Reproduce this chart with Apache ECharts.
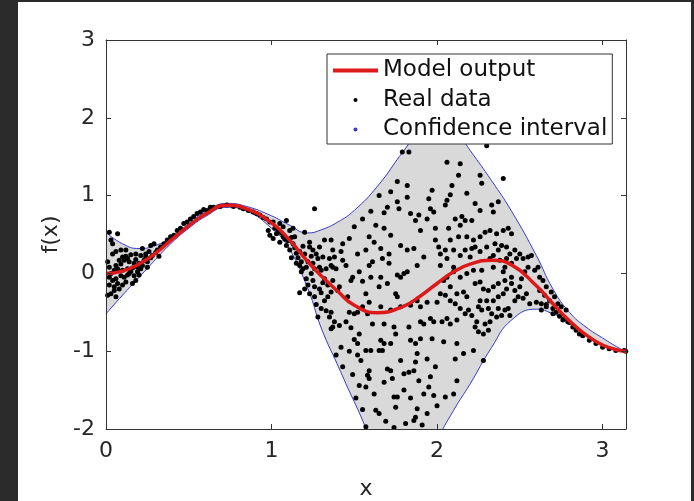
<!DOCTYPE html>
<html>
<head>
<meta charset="utf-8">
<script src="https://cdn.jsdelivr.net/npm/echarts@6/dist/echarts.min.js"></script>
<style>
html,body{margin:0;padding:0;background:#2b2b2b;width:694px;height:501px;overflow:hidden}
#chart{position:absolute;left:18px;top:2px;width:673px;height:499px;background:#fff}
</style>
</head>
<body>
<div id="chart"></div>
<script>
const xTicks = [0, 1, 2, 3];
const yTicks = [-2, -1, 0, 1, 2, 3];
const xMax = 3.14159;

const bandX  = [0,0.1,0.2,0.3,0.4,0.5,0.6,0.73,0.85,1.0,1.1,1.22,1.3,1.4,1.5,1.64,1.8,1.9,2.0,2.1,2.2,2.33,2.45,2.6,2.7,2.8,2.9,3.0,3.1,3.14159];
const modelY = [0.00,0.03,0.12,0.26,0.44,0.61,0.76,0.876,0.83,0.65,0.45,0.15,-0.03,-0.23,-0.41,-0.505,-0.42,-0.29,-0.13,0.02,0.12,0.17,0.11,-0.16,-0.39,-0.61,-0.79,-0.92,-0.99,-1.00];
const upperY = [0.53,0.38,0.32,0.36,0.47,0.64,0.79,0.90,0.86,0.74,0.63,0.52,0.56,0.66,0.81,1.12,1.58,1.84,1.97,1.87,1.58,1.19,0.80,0.23,-0.20,-0.50,-0.69,-0.83,-0.96,-1.00];
const lowerY = [-0.52,-0.28,-0.05,0.18,0.40,0.58,0.73,0.85,0.80,0.58,0.34,-0.20,-0.70,-1.18,-1.65,-2.25,-2.65,-2.65,-2.15,-1.76,-1.42,-0.95,-0.60,-0.46,-0.52,-0.62,-0.80,-0.93,-0.99,-1.00];

const realData = [
[0.02,0.53],[0.07,0.51],[0.03,0.43],[0.04,0.38],[0.06,0.28],[0.10,0.21],[0.08,0.17],[0.11,0.17],[0.13,0.19],[0.14,0.15],[0.17,0.13],[0.01,0.15],[0.02,0.08],[0.05,0.04],[0.07,0.06],[0.10,0.04],[0.13,0.06],[0.16,0.07],[0.19,0.08],[0.20,0.13],[0.23,0.17],[0.21,0.23],[0.18,0.25],[0.22,0.32],[0.26,0.28],[0.27,0.36],[0.29,0.38],[0.24,0.21],[0.25,0.15],[0.02,-0.05],[0.04,-0.09],[0.06,-0.07],[0.09,-0.03],[0.11,-0.05],[0.14,0.00],[0.17,-0.03],[0.19,0.02],[0.02,-0.15],[0.05,-0.17],[0.07,-0.13],[0.12,-0.11],[0.03,-0.26],[0.06,-0.30],[0.05,-0.22],[0.16,-0.13],[0.18,-0.09],[0.21,0.06],[0.25,0.08],[0.28,0.23],[0.31,0.30],[0.33,0.34],[0.35,0.38],[0.37,0.43],[0.39,0.47],[0.43,0.55],[0.47,0.64],[0.51,0.70],[0.55,0.77],[0.59,0.82],[0.63,0.85],[0.69,0.86],[0.77,0.86],[0.83,0.83],[0.89,0.79],[0.93,0.75],[0.97,0.70],[1.01,0.66],[1.05,0.64],[1.09,0.68],[1.07,0.60],[1.11,0.55],[1.13,0.58],[0.98,0.55],[0.99,0.49],[1.01,0.45],[1.03,0.51],[1.05,0.40],[1.07,0.47],[1.09,0.36],[1.11,0.30],[1.13,0.38],[1.15,0.26],[1.15,0.13],
[0.41,0.49],[0.45,0.58],[0.49,0.66],[0.53,0.73],[0.57,0.79],[0.61,0.81],[0.65,0.85],[0.73,0.88],[0.81,0.85],[0.86,0.81],[0.91,0.77],[0.95,0.72],[0.99,0.66],
[0.03,0.00],[0.06,0.10],[0.09,0.12],[0.12,0.22],[0.15,0.24],[0.18,0.18],[0.08,-0.20],[0.10,-0.15],[0.13,-0.02],[0.15,0.02],[0.20,-0.02],[0.22,0.10],[0.24,0.25],[0.27,0.20],[0.30,0.27],[0.32,0.22],[0.04,0.25],[0.01,-0.28],[0.09,0.30],[0.12,0.30],
[1.02,0.58],[1.04,0.55],[1.06,0.52],[1.08,0.44],[1.10,0.42],[1.12,0.46],[1.14,0.33],[1.16,0.20],[1.18,0.15],[1.19,0.35],[1.14,0.47],[1.12,0.20],[1.17,0.10],[1.20,0.25],[1.22,0.15],[1.24,0.22],[1.27,0.25],[1.22,-0.15],[1.26,-0.30],[1.30,-0.25],[1.31,-0.12],[1.34,-0.15],[1.27,-0.40],[1.30,-0.45],[1.33,-0.48],
[1.46,-0.30],[1.48,-0.70],[1.50,-0.85],[1.47,-1.00],[1.49,-1.30],[1.51,-1.60],[1.55,-1.75],[1.55,-0.10],[1.57,0.30],[1.52,0.25],[1.45,0.10],[1.47,0.45],[1.50,0.60],[1.55,0.70],[1.60,0.80],[1.63,0.62],[1.70,0.85],[1.72,1.05],[1.68,0.78],
[1.62,-1.55],[1.68,-1.40],[1.80,-1.50],[1.84,-1.60],[1.92,-1.55],[1.99,-1.20],[2.00,-1.70],[1.69,-1.90],[1.81,-1.93],[1.91,-1.95],
[1.26,0.83],[1.79,1.56],[1.83,1.56],[1.76,1.18],[1.82,1.13],[1.76,0.92],[1.82,0.98],[1.65,1.00],[1.77,0.83],[1.84,0.77],[1.87,0.68],[1.89,0.75],[1.94,0.70],[1.97,1.07],[1.95,0.96],[1.96,0.83],[1.98,0.79],[1.68,0.58],[1.72,0.49],[1.90,0.55],[1.99,0.58],[1.99,0.43],[2.01,0.34],[1.59,0.47],[1.62,0.40],[1.66,0.32],[1.71,0.25],[1.78,0.36],[1.82,0.30],[1.86,0.32],[1.92,0.21],[1.88,0.10],[1.67,0.19],[1.61,0.15],[1.59,0.10],[1.71,0.13],[1.53,0.02],[1.49,-0.05],[1.48,-0.09],[1.60,-0.05],[1.66,-0.05],[1.76,-0.02],[1.78,-0.05],[1.80,0.00],[1.82,0.02],[1.70,-0.13],[1.65,-0.17],[1.75,-0.26],[1.76,-0.30],[1.57,-0.26],[1.59,-0.37],[1.55,-0.43],[1.52,-0.50],[1.58,-0.52],[1.66,-0.43],[1.72,-0.47],[1.78,-0.43],[1.84,-0.41],[1.88,-0.35],[1.90,-0.43],[1.94,-0.37],[2.00,-0.37],[1.98,-0.62],[1.96,-0.58],[1.90,-0.62],[1.92,-0.65],[1.83,-0.69],[1.74,-0.69],[1.75,-0.78],[1.68,-0.65],[1.61,-0.65],[1.66,-0.86],[1.68,-0.90],[1.72,-0.90],[1.67,-0.99],[1.65,-0.99],[1.60,-0.99],[1.57,-0.99],[1.53,-0.78],[1.52,-0.90],[1.54,-1.12],[1.52,-1.05],[1.78,-1.12],[1.84,-0.86],[1.87,-0.90],[1.90,-0.84],[1.88,-1.03],[1.87,-1.14],[1.94,-1.10],[1.97,-0.84],[1.95,-1.46],[1.98,-1.57],[1.96,-1.33],[1.89,-1.38],[1.86,-1.25],[1.83,-1.27],[1.80,-1.29],[1.72,-1.25],[1.70,-1.23],[1.59,-1.25],[1.58,-1.31],[1.59,-1.35],[1.53,-1.44],[1.57,-1.46],[1.73,-1.35],[1.76,-1.59],[1.74,-1.59],[1.75,-1.72],[1.88,-1.74],[1.87,-1.85],[1.86,-1.89],[1.94,-1.80],[1.63,-1.76],[1.65,-1.80],[1.57,-1.97],[1.74,-1.98],[1.43,-1.20],[1.39,-1.05],[1.42,-0.95],[1.45,-0.62],[1.41,-0.67],[1.37,-0.69],[1.36,-0.71],[1.38,-0.62],[1.36,-0.50],[1.35,-0.56],[1.28,-0.56],[1.32,-0.35],[1.34,-0.30],[1.29,-0.20],[1.36,-0.24],[1.40,-0.22],[1.41,-0.17],[1.37,-0.09],[1.32,-0.07],[1.25,-0.09],[1.26,-0.17],[1.23,-0.26],[1.20,-0.20],[1.17,-0.25],[1.21,-0.07],[1.24,0.00],[1.21,0.08],[1.25,0.13],[1.28,0.19],[1.31,0.21],[1.35,0.19],[1.38,0.21],[1.36,0.10],[1.39,0.06],[1.43,0.17],[1.42,0.28],[1.43,0.38],[1.37,0.30],[1.36,0.43],[1.32,0.43],[1.29,0.34],[1.25,0.30],[1.23,0.40],[1.20,0.53],[1.23,0.34],[1.17,0.28],[1.19,0.06],[1.18,0.02],[1.29,0.08],[1.33,0.06],[1.37,0.08],[1.30,0.04],[1.26,0.06],[1.47,-0.50],[1.50,-0.52],[2.04,-0.88],[2.12,-0.90],[2.11,-1.10],[2.12,-1.38],[2.10,-1.55],[2.05,-1.59],
[2.30,1.64],[2.06,1.43],[2.14,1.41],[2.13,1.26],[2.26,1.26],[2.27,1.16],[2.40,1.22],[2.09,1.13],[2.08,1.01],[2.06,0.94],[2.18,1.03],[2.05,0.88],[2.23,0.90],[2.26,0.81],[2.33,0.88],[2.37,0.92],[2.34,0.79],[2.11,0.70],[2.15,0.73],[2.17,0.68],[2.14,0.62],[2.21,0.68],[2.07,0.58],[2.08,0.43],[2.05,0.30],[2.02,0.25],[2.13,0.47],[2.18,0.47],[2.22,0.43],[2.26,0.47],[2.29,0.53],[2.32,0.55],[2.36,0.51],[2.40,0.55],[2.43,0.58],[2.45,0.51],[2.23,0.34],[2.21,0.32],[2.17,0.30],[2.14,0.23],[2.10,0.30],[2.06,0.19],[2.02,0.10],[2.10,0.08],[2.20,0.21],[2.26,0.28],[2.30,0.34],[2.35,0.38],[2.37,0.30],[2.34,0.23],[2.32,0.19],[2.39,0.36],[2.42,0.34],[2.44,0.25],[2.47,0.30],[2.50,0.25],[2.52,0.19],[2.55,0.21],[2.57,0.23],[2.48,0.19],[2.45,0.13],[2.41,0.08],[2.40,0.02],[2.42,0.19],[2.38,0.17],[2.34,0.08],[2.27,0.04],[2.22,0.04],[2.18,0.00],[2.10,0.02],[2.06,-0.05],[2.14,-0.05],[2.23,-0.13],[2.26,-0.11],[2.28,-0.20],[2.31,-0.22],[2.34,-0.17],[2.37,-0.13],[2.41,-0.09],[2.45,-0.05],[2.51,-0.07],[2.53,0.02],[2.55,0.08],[2.59,0.04],[2.61,0.08],[2.62,-0.05],[2.64,-0.09],[2.66,-0.17],[2.69,-0.24],[2.62,-0.22],[2.65,-0.28],[2.68,-0.35],[2.71,-0.30],[2.73,-0.39],[2.75,-0.43],[2.78,-0.47],[2.76,-0.60],[2.79,-0.62],[2.70,-0.52],[2.66,-0.43],[2.63,-0.47],[2.63,-0.39],[2.60,-0.37],[2.56,-0.39],[2.52,-0.32],[2.49,-0.30],[2.47,-0.22],[2.50,-0.17],[2.54,-0.26],[2.45,-0.13],[2.42,-0.20],[2.40,-0.26],[2.37,-0.30],[2.34,-0.35],[2.30,-0.35],[2.26,-0.35],[2.25,-0.43],[2.27,-0.47],[2.31,-0.45],[2.33,-0.52],[2.37,-0.45],[2.41,-0.47],[2.43,-0.45],[2.44,-0.54],[2.39,-0.54],[2.36,-0.56],[2.32,-0.62],[2.29,-0.65],[2.24,-0.62],[2.21,-0.54],[2.19,-0.47],[2.17,-0.52],[2.14,-0.45],[2.11,-0.39],[2.08,-0.35],[2.05,-0.28],[2.02,-0.26],[2.12,-0.26],[2.16,-0.24],[2.18,-0.30],[2.08,-0.17],[2.04,-0.09],[2.12,-0.60],[2.08,-0.65],[2.06,-0.58],[2.03,-0.62],[2.23,-0.69],[2.25,-0.75],[2.28,-0.78],[2.31,-0.73],[2.47,-0.35],
[2.16,-1.03],[2.22,-0.99],[2.28,-1.12],[2.80,-0.63],[2.82,-0.69],[2.84,-0.73],[2.86,-0.78],[2.88,-0.80],[2.92,-0.86],[2.96,-0.90],[3.00,-0.95],[3.04,-0.97],[3.08,-0.99],[3.13,-0.99],[3.14,-1.00],[2.66,-0.40],[2.70,-0.45],[2.72,-0.50],[2.74,-0.55],[2.77,-0.58]
];

const FONT = 'DejaVu Sans';
const TXT = '#262626';
const AX = '#333333';
const BLUE = '#3a3ac8';
const RED = '#dd1a1a';
const pairs = (xs, ys) => xs.map((x, i) => [x, ys[i]]);

const chart = echarts.init(document.getElementById('chart'), null, {renderer: 'canvas'});

const axisCommon = {
  z: 10,
  axisLine: {show: true, onZero: false, lineStyle: {color: AX, width: 1}},
  axisTick: {show: true, inside: true, length: 5, lineStyle: {color: AX, width: 1}},
  splitLine: {show: false}
};

chart.setOption({
  backgroundColor: '#ffffff',
  animation: false,
  grid: {left: 88, top: 38, right: 65, bottom: 72, containLabel: false, outerBoundsMode: 'none'},
  xAxis: [
    Object.assign({
      type: 'value', min: 0, max: xMax, interval: 1, position: 'bottom',
      axisLabel: {show: true, margin: 11, fontSize: 22, color: TXT, fontFamily: FONT,
        showMaxLabel: false,
        formatter: v => (xTicks.indexOf(v) >= 0 ? String(v) : '')},
      name: 'x', nameLocation: 'middle', nameGap: 49,
      nameTextStyle: {fontSize: 22, color: TXT, fontFamily: FONT}
    }, axisCommon),
    Object.assign({
      type: 'value', min: 0, max: xMax, interval: 1, position: 'top',
      axisLabel: {show: false}
    }, axisCommon)
  ],
  yAxis: [
    Object.assign({
      type: 'value', min: -2, max: 3, interval: 1, position: 'left',
      axisLabel: {show: true, margin: 11, fontSize: 22, color: TXT, fontFamily: FONT,
        formatter: v => (yTicks.indexOf(v) >= 0 ? String(v) : '')},
      name: 'f(x)', nameLocation: 'middle', nameGap: 43, nameRotate: 90,
      nameTextStyle: {fontSize: 22, color: TXT, fontFamily: FONT}
    }, axisCommon),
    Object.assign({
      type: 'value', min: -2, max: 3, interval: 1, position: 'right',
      axisLabel: {show: false}
    }, axisCommon)
  ],
  legend: {
    orient: 'vertical', left: 309, top: 52,
    padding: [5, 5, 3, 6], itemGap: 6.5, itemWidth: 45, itemHeight: 4, itemTextGap: 5,
    backgroundColor: '#ffffff', borderColor: '#333333', borderWidth: 1, borderRadius: 0,
    selectedMode: false, z: 20,
    textStyle: {fontSize: 23, lineHeight: 22, color: '#111111', fontFamily: FONT},
    data: [
      {name: 'Model output', icon: 'rect', itemStyle: {color: RED}},
      {name: 'Real data', icon: 'circle', itemStyle: {color: '#000000'}},
      {name: 'Confidence interval', icon: 'circle', itemStyle: {color: BLUE}}
    ]
  },
  series: [
    {
      name: 'bandUpperFill', type: 'line', data: pairs(bandX, upperY),
      smooth: true, showSymbol: false, lineStyle: {width: 0, opacity: 0},
      areaStyle: {color: '#d9d9d9', opacity: 1, origin: 'start'}, silent: true, z: 1
    },
    {
      name: 'bandLowerFill', type: 'line', data: pairs(bandX, lowerY),
      smooth: true, showSymbol: false, lineStyle: {width: 0, opacity: 0},
      areaStyle: {color: '#ffffff', opacity: 1, origin: 'start'}, silent: true, z: 2
    },
    {
      name: 'Confidence interval', type: 'line', data: pairs(bandX, upperY),
      smooth: true, showSymbol: false, itemStyle: {color: BLUE},
      lineStyle: {color: BLUE, width: 1}, z: 3
    },
    {
      name: 'Confidence interval', type: 'line', data: pairs(bandX, lowerY),
      smooth: true, showSymbol: false, itemStyle: {color: BLUE},
      lineStyle: {color: BLUE, width: 1}, z: 3
    },
    {
      name: 'Real data', type: 'scatter', data: realData,
      symbol: 'circle', symbolSize: 5, itemStyle: {color: '#000000', opacity: 1}, z: 4
    },
    {
      name: 'Model output', type: 'line', data: pairs(bandX, modelY),
      smooth: true, showSymbol: false, itemStyle: {color: RED},
      lineStyle: {color: RED, width: 3.5}, z: 5
    }
  ]
});
</script>
</body>
</html>
